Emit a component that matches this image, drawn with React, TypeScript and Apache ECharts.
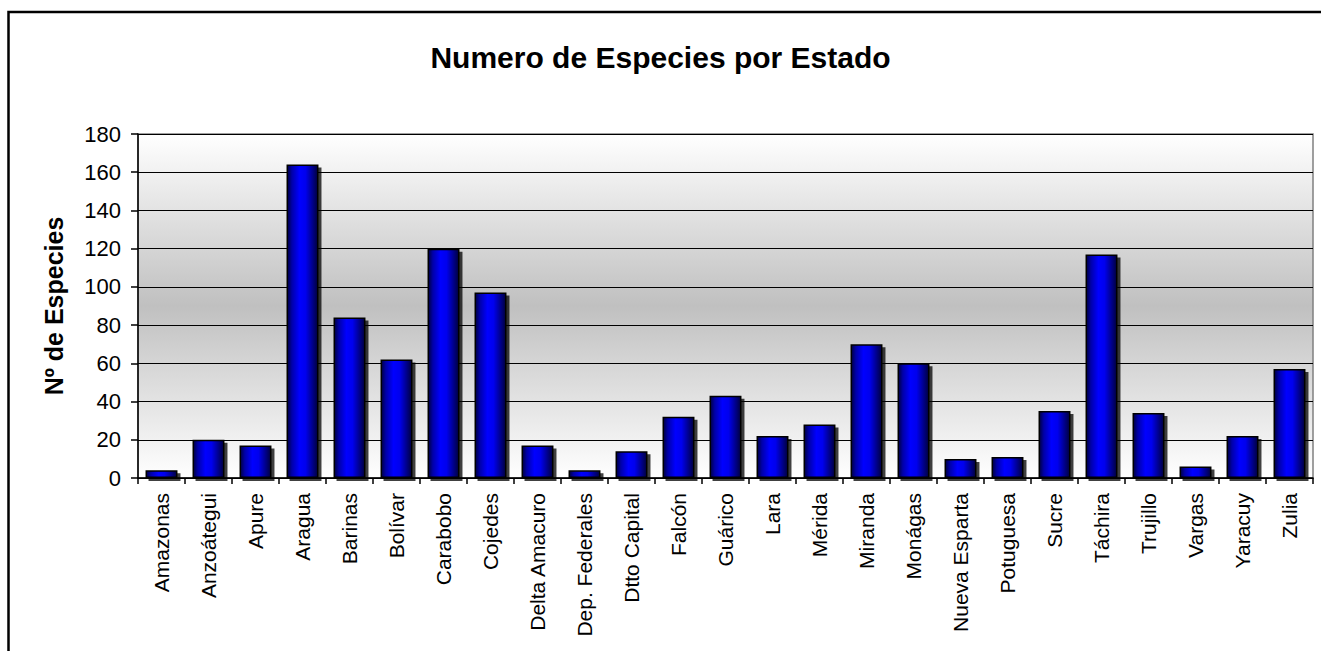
import React, { useEffect, useRef } from "react";
import * as echarts from "echarts";

const TITLE = "Numero de Especies por Estado";
const Y_NAME = "Nº de Especies";
const categories = [
  "Amazonas", "Anzoátegui", "Apure", "Aragua", "Barinas", "Bolívar", "Carabobo",
  "Cojedes", "Delta Amacuro", "Dep. Federales", "Dtto Capital", "Falcón", "Guárico",
  "Lara", "Mérida", "Miranda", "Monágas", "Nueva Esparta", "Potuguesa", "Sucre",
  "Táchira", "Trujillo", "Vargas", "Yaracuy", "Zulia",
];
const values = [4, 20, 17, 164, 84, 62, 120, 97, 17, 4, 14, 32, 43, 22, 28, 70, 60, 10, 11, 35, 117, 34, 6, 22, 57];
const Y_MIN = 0;
const Y_MAX = 180;
const Y_STEP = 20;

const FONT = '"Liberation Sans", Arial, sans-serif';

export default function App() {
  const ref = useRef<HTMLDivElement>(null);
  useEffect(() => {
    if (!ref.current) return;
    const chart = echarts.init(ref.current, null, { renderer: "svg" });
    chart.setOption({
      animation: false,
      backgroundColor: "#ffffff",
      title: {
        text: TITLE,
        left: "center",
        top: 37,
        textStyle: { fontFamily: FONT, fontSize: 30, fontWeight: "bold", color: "#000" },
      },
      graphic: [
        {
          type: "rect",
          shape: { x: 8.5, y: 12, width: 1400, height: 800 },
          style: { fill: "none", stroke: "#000", lineWidth: 2.5 },
          silent: true,
          z: 100,
        },
      ],
      grid: {
        left: 138,
        right: 8,
        top: 134,
        bottom: 173,
        show: true,
        borderColor: "#808080",
        borderWidth: 1.5,
        backgroundColor: new echarts.graphic.LinearGradient(0, 0, 0, 1, [
          { offset: 0, color: "#ffffff" },
          { offset: 0.5, color: "#c0c0c0" },
          { offset: 1, color: "#ffffff" },
        ]),
      },
      xAxis: {
        type: "category",
        data: categories,
        axisLine: { lineStyle: { color: "#000", width: 1.5 } },
        axisTick: { show: true, length: 6, lineStyle: { color: "#000", width: 1.5 } },
        axisLabel: {
          rotate: 90,
          interval: 0,
          margin: 15,
          fontFamily: FONT,
          fontSize: 21,
          color: "#000",
        },
      },
      yAxis: {
        type: "value",
        min: Y_MIN,
        max: Y_MAX,
        interval: Y_STEP,
        name: Y_NAME,
        nameLocation: "middle",
        nameGap: 72,
        nameTextStyle: { fontFamily: FONT, fontSize: 25, fontWeight: "bold", color: "#000" },
        axisLine: { show: true, lineStyle: { color: "#000", width: 1.5 } },
        axisTick: { show: true, length: 7, lineStyle: { color: "#000", width: 1.5 } },
        axisLabel: { margin: 17, fontFamily: FONT, fontSize: 22, color: "#000" },
        splitLine: { show: true, lineStyle: { color: "#000", width: 1.2 } },
      },
      series: [
        {
          type: "bar",
          data: values,
          barCategoryGap: "32%",
          itemStyle: {
            color: new echarts.graphic.LinearGradient(0, 0, 1, 0, [
              { offset: 0, color: "#000040" },
              { offset: 0.15, color: "#0000a8" },
              { offset: 0.4, color: "#0000ff" },
              { offset: 0.6, color: "#0000ee" },
              { offset: 1, color: "#000040" },
            ]),
            borderColor: "#000",
            borderWidth: 1.5,
            shadowColor: "rgba(0,0,0,0.75)",
            shadowOffsetX: 3,
            shadowOffsetY: 3,
            shadowBlur: 0,
          },
        },
      ],
    });
    return () => chart.dispose();
  }, []);
  return (
    <div
      ref={ref}
      style={{ position: "absolute", left: 0, top: 0, width: 1321, height: 651 }}
    />
  );
}
